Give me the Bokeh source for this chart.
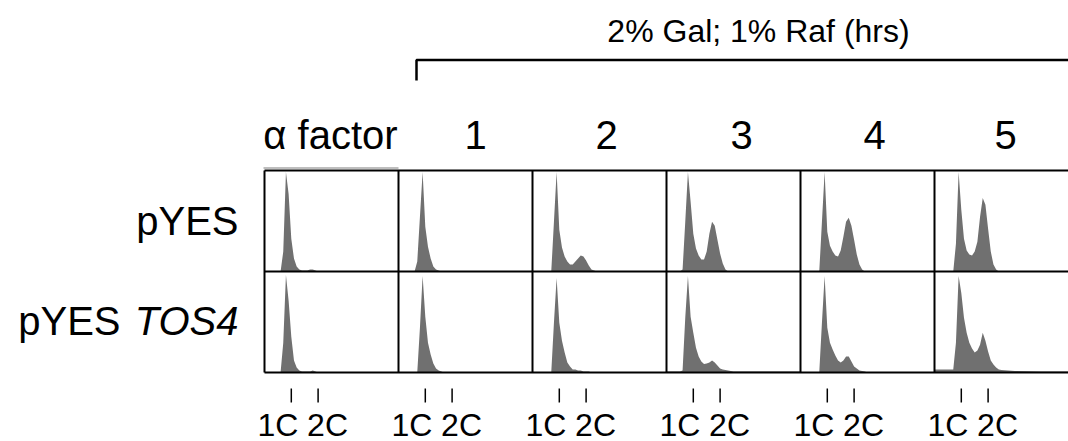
from bokeh.plotting import figure
from bokeh.models import Range1d
from bokeh.core.properties import value
from bokeh.embed import file_html
from bokeh.resources import INLINE

# ---------------- data ----------------
title_text = "2% Gal; 1% Raf (hrs)"
conditions = ["\u03b1 factor", "1", "2", "3", "4", "5"]
strains = ["pYES", "pYES TOS4"]
tick_labels = ["1C", "2C"]
tick_dna = [1.0, 2.0]

# DNA content bins (1C = 1, 2C = 2)
dna = [0.0, 0.5, 0.6, 0.7, 0.8, 0.9, 1.0, 1.1, 1.2, 1.3, 1.4, 1.5, 1.6,
       1.7, 1.8, 1.9, 2.0, 2.1, 2.2, 2.3, 2.4, 2.5, 3.0, 4.0, 5.0]

# relative cell counts (fraction of panel height), pYES row
pyes_alpha = [0, 0, 0, 0.20, 1.00, 0.78, 0.33, 0.13, 0.05, 0.02, 0.01, 0.01, 0.01,
              0.02, 0.02, 0.01, 0, 0, 0, 0, 0, 0, 0, 0, 0]
pyes_1h = [0, 0, 0, 0.10, 0.55, 1.00, 0.45, 0.25, 0.13, 0.05, 0.02, 0.01, 0,
           0, 0, 0, 0, 0, 0, 0, 0, 0, 0, 0, 0]
pyes_2h = [0, 0, 0, 0.00, 0.50, 1.00, 0.42, 0.24, 0.15, 0.10, 0.07, 0.07, 0.10,
           0.13, 0.16, 0.15, 0.11, 0.06, 0.02, 0.01, 0, 0, 0, 0, 0]
pyes_3h = [0, 0, 0.02, 0.50, 1.00, 0.70, 0.38, 0.23, 0.16, 0.12, 0.12, 0.20, 0.38,
           0.50, 0.46, 0.32, 0.18, 0.08, 0.02, 0, 0, 0, 0, 0, 0]
pyes_4h = [0, 0, 0, 0.00, 0.50, 1.00, 0.40, 0.26, 0.20, 0.16, 0.15, 0.21, 0.35,
           0.50, 0.54, 0.46, 0.32, 0.17, 0.07, 0.02, 0, 0, 0, 0, 0]
pyes_5h = [0, 0, 0, 0.00, 0.28, 1.00, 0.62, 0.33, 0.21, 0.17, 0.16, 0.20, 0.30,
           0.55, 0.74, 0.67, 0.43, 0.20, 0.07, 0.02, 0, 0, 0, 0, 0]

# pYES TOS4 row
tos4_alpha = [0, 0, 0, 0.30, 0.98, 0.72, 0.36, 0.12, 0.05, 0.02, 0.01, 0.01, 0.01,
              0.01, 0.02, 0.01, 0, 0, 0, 0, 0, 0, 0, 0, 0]
tos4_1h = [0, 0, 0, 0.00, 0.45, 0.97, 0.56, 0.30, 0.18, 0.09, 0.04, 0.02, 0.01,
           0, 0, 0, 0, 0, 0, 0, 0, 0, 0, 0, 0]
tos4_2h = [0, 0, 0, 0.00, 0.50, 0.95, 0.50, 0.32, 0.20, 0.10, 0.06, 0.03, 0.03,
           0.02, 0.02, 0.01, 0.01, 0.01, 0, 0, 0, 0, 0, 0, 0]
tos4_3h = [0.01, 0.01, 0.02, 0.55, 0.97, 0.56, 0.40, 0.25, 0.16, 0.11, 0.085, 0.09, 0.10,
           0.12, 0.10, 0.07, 0.04, 0.03, 0.025, 0.02, 0.015, 0.01, 0.01, 0.01, 0.01]
tos4_4h = [0, 0, 0, 0.00, 0.50, 0.97, 0.45, 0.30, 0.23, 0.17, 0.12, 0.10, 0.12,
           0.16, 0.16, 0.11, 0.06, 0.04, 0.02, 0.015, 0.01, 0, 0, 0, 0]
tos4_5h = [0.03, 0.03, 0.03, 0.03, 0.30, 0.97, 0.80, 0.55, 0.40, 0.30, 0.24, 0.20, 0.22,
           0.28, 0.40, 0.32, 0.21, 0.12, 0.08, 0.05, 0.03, 0.025, 0.015, 0.01, 0.01]

rows = [
    [pyes_alpha, pyes_1h, pyes_2h, pyes_3h, pyes_4h, pyes_5h],
    [tos4_alpha, tos4_1h, tos4_2h, tos4_3h, tos4_4h, tos4_5h],
]

# ---------------- layout ----------------
W, H = 1068, 441
PANEL = 5.0                # panel width in DNA units
GRID_LEFT_PX = 264.0       # left edge of first panel
PX_PER_UNIT = (W - GRID_LEFT_PX) / (PANEL * len(conditions))
GRID_BOTTOM_PX = 372.0     # bottom of lower panel row
ROW_PX = 101.0
HEADER_NUDGE_PX = [-1, 10, 7, 8, 7, 4]

def fx(px):   # pixel -> data x
    return (px - GRID_LEFT_PX) / PX_PER_UNIT

def fy(py):   # pixel (from top) -> data y
    return (GRID_BOTTOM_PX - py) / ROW_PX

p = figure(width=W, height=H, output_backend="svg", toolbar_location=None,
           x_range=Range1d(fx(0), fx(W)), y_range=Range1d(fy(H), fy(0)),
           min_border=0)
p.axis.visible = False
p.grid.visible = False
p.outline_line_color = None
p.background_fill_color = "white"
p.border_fill_color = "white"

FONT = value("Liberation Sans")
nrows = len(strains)

def label(x, y, txt, size, align="center", style="normal"):
    p.text(x=[x], y=[y], text=[txt], text_align=align, text_baseline="middle",
           text_font=FONT, text_font_size=size, text_font_style=style,
           text_color="black")

# histograms
for r, row in enumerate(rows):
    base = nrows - 1 - r
    for c, counts in enumerate(row):
        xs = [c * PANEL + d for d in dna]
        top = [base + v * 0.985 for v in counts]
        p.varea(x=xs, y1=[base] * len(xs), y2=top, fill_color="#707070")

# panel borders
x_end = PANEL * len(conditions)
for k in range(nrows + 1):
    p.line([0, x_end + 1], [k, k], line_color="black", line_width=2)
for c in range(len(conditions)):
    p.line([c * PANEL, c * PANEL], [0, nrows], line_color="black", line_width=2)
# faint edge above alpha-factor panel
p.line([fx(GRID_LEFT_PX - 1), PANEL], [fy(167.5), fy(167.5)],
       line_color="#a8a8a8", line_width=1.5)

# 1C / 2C ticks and labels under each column
tick_top = fy(388)
tick_bot = fy(402)
lab_y = fy(424)
for c in range(len(conditions)):
    for d in tick_dna:
        p.line([c * PANEL + d] * 2, [tick_bot, tick_top], line_color="black", line_width=1.5)
    label(c * PANEL + tick_dna[0] + 7 / PX_PER_UNIT, lab_y, tick_labels[0], "32px", "right")
    label(c * PANEL + tick_dna[1] - 11 / PX_PER_UNIT, lab_y, tick_labels[1], "32px", "left")

# column headers
hdr_y = fy(134)
for c, name in enumerate(conditions):
    label(c * PANEL + PANEL / 2 + HEADER_NUDGE_PX[c] / PX_PER_UNIT, hdr_y, name, "40px")

# row labels
right_x = fx(238)
label(right_x, fy(220), strains[0], "40px", "right")
prefix, gene = strains[1].split(" ")
label(right_x, fy(320), gene, "40px", "right", "italic")
label(right_x - 118 / PX_PER_UNIT, fy(320), prefix, "40px", "right")

# treatment bracket and title
bx0 = fx(416)
p.line([bx0, bx0, x_end + 1], [fy(80), fy(59.5), fy(59.5)], line_color="black", line_width=2.5)
label(fx(758), fy(30), title_text, "32px")

open("out.html", "w").write(file_html(p, INLINE))
